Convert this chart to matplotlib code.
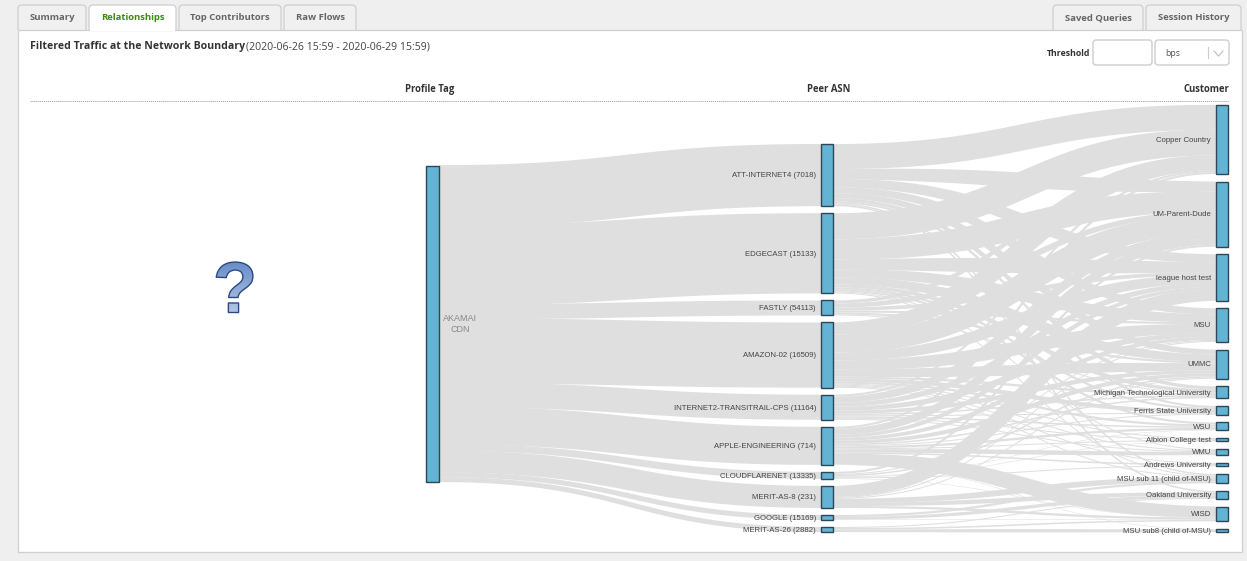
import numpy as np
import matplotlib
matplotlib.use("Agg")
import matplotlib.pyplot as plt
import matplotlib.patheffects as pe
from matplotlib.patches import Rectangle, FancyBboxPatch, Polygon

# ---------- data ----------
profile_tag = "AKAMAI\nCDN"
peers = ["ATT-INTERNET4 (7018)", "EDGECAST (15133)", "FASTLY (54113)", "AMAZON-02 (16509)",
         "INTERNET2-TRANSITRAIL-CPS (11164)", "APPLE-ENGINEERING (714)", "CLOUDFLARENET (13335)",
         "MERIT-AS-8 (231)", "GOOGLE (15169)", "MERIT-AS-26 (2882)"]
customers = ["Copper Country", "UM-Parent-Dude", "league host test", "MSU", "UMMC",
             "Michigan Technological University", "Ferris State University", "WSU",
             "Albion College test", "WMU", "Andrews University", "MSU sub 11 (child of-MSU)",
             "Oakland University", "WISD", "MSU sub8 (child of-MSU)"]
# traffic from each peer to each customer, in customer order
att_flows =      [25, 10, 8, 6, 5, 3, 2, 0, 0, 0, 0, 1.5, 1.5, 0, 0]
edgecast_flows = [26, 20, 10, 8, 7, 3, 2, 2, 0, 1, 0, 1, 0, 0, 0]
fastly_flows =   [3, 4, 3, 2, 2, 1, 0, 0, 0, 0, 0, 0, 0, 0, 0]
amazon_flows =   [12, 18, 8, 9, 7, 2, 3, 2, 1, 1, 1, 1, 0, 0, 0]
internet2_flows= [2, 6, 4, 4, 3, 1.5, 1, 1.5, 1, 1, 0, 0, 0, 0, 0]
apple_flows =    [2, 6, 3, 3, 3, 1.5, 1, 2, 1, 3, 1.5, 0, 0, 10.5, .5]
cloudflare_flows=[0, 2, 0, 1, 1.5, 0, 0, .5, .5, 0, 1, 0, 0, .5, 0]
merit8_flows =   [0, 0, 11, 1, 1, 0, 0, 0, 0, 0, 0, 4, 3, 2, 0]
google_flows =   [0, 0, 0, 0, 0, 0, 0, 0, 0, 0, 0, 2, 2.5, .5, 0]
merit26_flows =  [0, 0, 0, 0, 0, 0, 0, 0, 0, 0, 0, 0, 1, 1.5, 2.5]
tab_labels_left = ["Summary", "Relationships", "Top Contributors", "Raw Flows"]
tab_labels_right = ["Saved Queries", "Session History"]
column_titles = ["Profile Tag", "Peer ASN", "Customer"]
chart_title = "Filtered Traffic at the Network Boundary"
chart_range = "(2020-06-26 15:59 - 2020-06-29 15:59)"
threshold_label = "Threshold"
unit_label = "bps"

flows = np.array([att_flows, edgecast_flows, fastly_flows, amazon_flows, internet2_flows,
                  apple_flows, cloudflare_flows, merit8_flows, google_flows, merit26_flows], float)

# ---------- canvas in pixels ----------
W, H = 1247, 561
fig = plt.figure(figsize=(W / 100, H / 100), dpi=100, facecolor="#efefef")
ax = fig.add_axes([0, 0, 1, 1])
ax.set_xlim(0, W); ax.set_ylim(H, 0); ax.axis("off")

UI = "Open Sans"
SK = "Liberation Sans"
BORDER = "#cfcfcf"

def tab(x0, x1, label, active=False):
    p = FancyBboxPatch((x0, 5), x1 - x0, 32,
                       boxstyle="round,pad=0,rounding_size=4", mutation_scale=1,
                       fc="#ffffff" if active else "#f0f0f0", ec=BORDER, lw=0.9,
                       zorder=3 if active else 1)
    ax.add_patch(p)
    p.set_clip_path(Rectangle((x0 - 3, 0), x1 - x0 + 6, 30, transform=ax.transData))
    ax.text((x0 + x1) / 2, 17.5, label, family=UI, weight="bold", fontsize=6.8,
            color="#3d8b0f" if active else "#666666", ha="center", va="center", zorder=5)

left_spans = [(18, 86), (89, 176), (179, 281), (284, 356)]
for i, (sp, lab) in enumerate(zip(left_spans, tab_labels_left)):
    tab(sp[0], sp[1], lab, active=i == 1)
for sp, lab in zip([(1053, 1143), (1146, 1241)], tab_labels_right):
    tab(sp[0], sp[1], lab)

ax.add_patch(Rectangle((17.5, 29.5), 1224, 522, fc="white", ec=BORDER, lw=0.9, zorder=2))
ax.add_patch(Rectangle((89.6, 27), 85.8, 4, fc="white", ec="none", zorder=4))

# title
ax.text(30, 46.5, chart_title, family=UI, weight="bold", fontsize=7.55, color="#333333",
        va="center", ha="left", zorder=5)
ax.text(246.5, 46.5, chart_range, family=UI, fontsize=7.55, color="#444444", va="center", ha="left", zorder=5)

# threshold controls
ax.text(1090, 53.5, threshold_label, family=UI, weight="bold", fontsize=6.3, color="#333333",
        ha="right", va="center", zorder=5)
for x0, x1 in [(1093, 1152), (1155, 1229)]:
    ax.add_patch(FancyBboxPatch((x0, 40), x1 - x0, 25, boxstyle="round,pad=0,rounding_size=3",
                                mutation_scale=1, fc="white", ec="#c8c8c8", lw=0.9, zorder=3))
ax.text(1165, 53, unit_label, family=UI, fontsize=6.3, color="#555555", va="center", zorder=5)
ax.plot([1208, 1208], [47, 58], color="#cccccc", lw=0.8, zorder=5)
ax.plot([1214, 1218.5, 1223], [51, 56, 51], color="#bbbbbb", lw=0.8, zorder=5)

# column headers
for x, lab, ha in zip([429.5, 829, 1229], column_titles, ["center", "center", "right"]):
    ax.text(x, 89.5, lab, family=UI, weight="bold", fontsize=6.85, color="#333333", ha=ha, va="center", zorder=5)
ax.plot([30, 1229], [100.5, 100.5], color="#999999", lw=0.7, ls=(0, (1, 1)), zorder=5)

# ---------- sankey layout, derived from the flows ----------
peer_tot = flows.sum(axis=1)
cust_tot = flows.sum(axis=0)

def column(totals, top, bottom, gap):
    k = (bottom - top - gap * (len(totals) - 1)) / totals.sum()
    heights = totals * k
    tops = top + np.concatenate([[0], np.cumsum(heights[:-1] + gap)])
    return tops, heights, k

p_tops, p_h, p_k = column(peer_tot, 144, 532, 7.0)
c_tops, c_h, c_k = column(cust_tot, 105, 532, 7.7)
a_top, a_bot = 166, 482
a_k = (a_bot - a_top) / peer_tot.sum()

XA = (426, 439); XP = (821, 833); XC = (1216, 1228)
RIB = "#dfdfdf"
T = np.linspace(0, 1, 80)

def ribbon(x0, y0, x1, y1, width, bulge=0.0):
    xm = (x0 + x1) / 2
    bx = (1 - T) ** 3 * x0 + 3 * (1 - T) ** 2 * T * xm + 3 * (1 - T) * T ** 2 * xm + T ** 3 * x1
    by = (1 - T) ** 3 * y0 + 3 * (1 - T) ** 2 * T * y0 + 3 * (1 - T) * T ** 2 * y1 + T ** 3 * y1
    dx, dy = np.gradient(bx), np.gradient(by)
    n = np.hypot(dx, dy)
    half = width / 2 * (1 + bulge * np.sin(np.pi * T))
    top = np.c_[bx + dy / n * half, by - dx / n * half]
    bot = np.c_[bx - dy / n * half, by + dx / n * half]
    ax.add_patch(Polygon(np.r_[top, bot[::-1]], closed=True, fc=RIB, ec="none", zorder=3))

# Akamai -> peers
ya = a_top
for i in range(len(peers)):
    ribbon(XA[1], ya + peer_tot[i] * a_k / 2, XP[0], p_tops[i] + p_h[i] / 2, p_h[i])
    ya += peer_tot[i] * a_k

# peers -> customers, stacked in node order on both ends
yc = c_tops.copy()
for i in range(len(peers)):
    yp = p_tops[i]
    for j in range(len(customers)):
        v = flows[i, j]
        if v <= 0:
            continue
        ribbon(XP[1], yp + v * p_k / 2, XC[0], yc[j] + v * c_k / 2, v * (p_k + c_k) / 2,
               bulge=np.interp(v, [1.5, 3, 12, 25], [0, .5, .5, .05]))
        yp += v * p_k
        yc[j] += v * c_k

NODE = "#62b3d4"; EDGE = "#2e4756"
def node(xs, top, h):
    ax.add_patch(Rectangle((xs[0], top), xs[1] - xs[0], h, fc=NODE, ec=EDGE, lw=1.0, zorder=4))

node(XA, a_top, a_bot - a_top)
ax.text(460, 324, profile_tag, family=SK, fontsize=6.5, color="#888888", ha="center", va="center",
        linespacing=1.2, zorder=5)
for top, h, lab in zip(p_tops, p_h, peers):
    node(XP, top, h)
    ax.text(816, top + h / 2 + 0.8, lab, family=SK, fontsize=5.6, color="#444444", ha="right", va="center", zorder=5)
for top, h, lab in zip(c_tops, c_h, customers):
    node(XC, top, h)
    ax.text(1211, top + h / 2 + 0.8, lab, family=SK, fontsize=5.6, color="#444444", ha="right", va="center", zorder=5)

# question mark
ax.text(235, 293.5, "?", family=SK, weight="bold", fontsize=52, color="#5f86c8", ha="center", va="center", zorder=5)
fade = np.ones((64, 2, 4)); fade[..., 3] = np.linspace(0, 0.6, 64)[:, None]
ax.imshow(fade, extent=(205, 265, 320, 255), aspect="auto", zorder=6, interpolation="bilinear")
q = ax.text(235, 293.5, "?", family=SK, weight="bold", fontsize=52, color="none", ha="center", va="center", zorder=7)
q.set_path_effects([pe.Stroke(linewidth=1.0, foreground="#2c4a80")])
ax.set_xlim(0, W); ax.set_ylim(H, 0)

fig.savefig("out.png", dpi=100, facecolor=fig.get_facecolor())
